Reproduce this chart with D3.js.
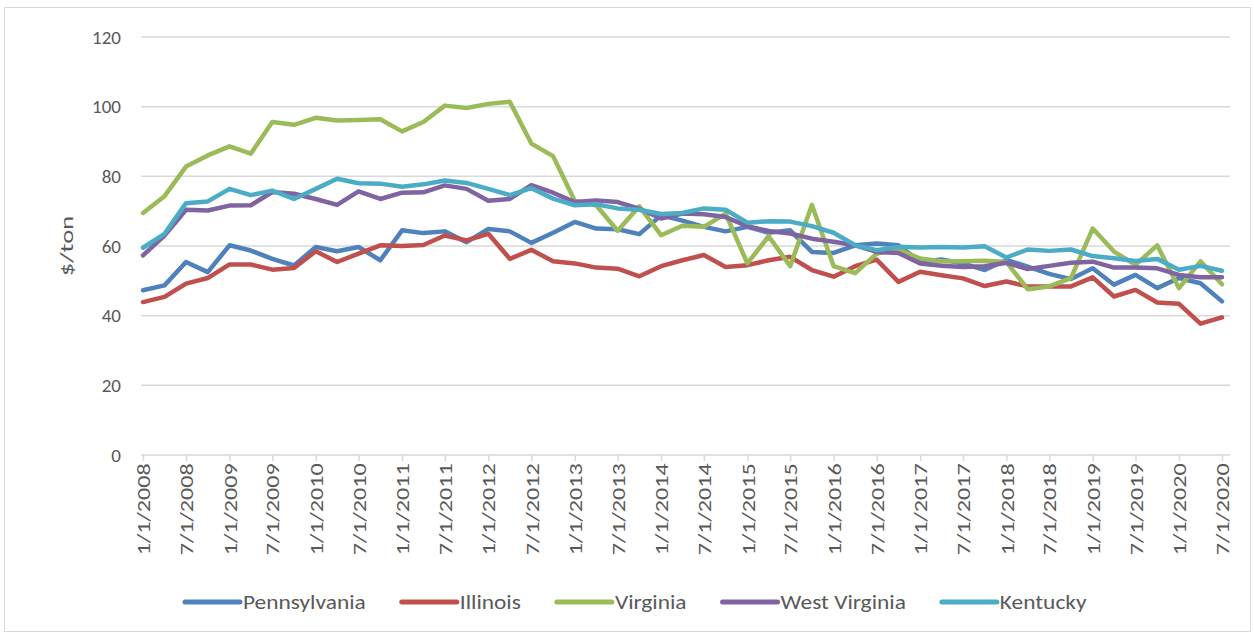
<!DOCTYPE html>
<html>
<head>
<meta charset="utf-8">
<script src="https://cdn.jsdelivr.net/npm/d3@7"></script>
<style>
  body { margin: 0; background: #fff; }
  text { font-family: Calibri, Carlito, Lato, sans-serif; fill: #595959; }
</style>
</head>
<body>
<svg id="chart"></svg>
<script>
const width = 1254;
const height = 636;

// quarterly dates, 1/1/2008 .. 7/1/2020
const dates = d3.timeMonth.range(new Date(2008, 0, 1), new Date(2020, 7, 1), 3);

const states = ["Pennsylvania", "Illinois", "Virginia", "West Virginia", "Kentucky"];
const colors = ["#4F81BD", "#C0504D", "#9BBB59", "#8064A2", "#4BACC6"];

const pennsylvania = [47.3, 48.7, 55.4, 52.5, 60.2, 58.7, 56.3, 54.4, 59.7, 58.5,
  59.7, 55.9, 64.5, 63.7, 64.2, 61.1, 64.9, 64.2, 60.9, 63.8,
  66.9, 65.0, 64.8, 63.4, 68.8, 67.3, 65.5, 64.2, 65.5, 63.8,
  64.5, 58.3, 58.0, 60.2, 60.7, 60.2, 55.5, 56.1, 55.0, 53.1,
  56.0, 54.1, 52.0, 50.5, 53.6, 48.9, 51.7, 47.9, 50.8, 49.3, 44.1];

const illinois = [43.9, 45.4, 49.2, 50.8, 54.7, 54.7, 53.2, 53.7, 58.5, 55.4,
  57.8, 60.2, 60.0, 60.3, 63.0, 61.6, 63.5, 56.3, 58.9, 55.6,
  55.0, 53.8, 53.5, 51.3, 54.2, 55.9, 57.4, 54.0, 54.5, 55.9,
  56.9, 53.1, 51.2, 54.2, 56.1, 49.7, 52.6, 51.6, 50.7, 48.5,
  49.8, 48.4, 48.4, 48.4, 51.0, 45.5, 47.4, 43.8, 43.4, 37.7, 39.5];

const virginia = [69.5, 74.3, 82.8, 86.0, 88.6, 86.5, 95.6, 94.8, 96.8, 96.0,
  96.2, 96.4, 92.9, 95.6, 100.3, 99.6, 100.8, 101.4, 89.4, 85.8,
  72.9, 71.7, 64.4, 71.4, 63.1, 65.8, 65.5, 69.3, 55.0, 62.8,
  54.2, 71.8, 54.2, 52.2, 57.8, 59.0, 56.4, 55.6, 55.6, 55.8,
  55.4, 47.6, 48.4, 50.8, 65.0, 58.4, 54.6, 60.2, 47.9, 55.6, 49.0];

const westVirginia = [57.3, 63.0, 70.4, 70.2, 71.6, 71.7, 75.5, 75.0, 73.5, 71.8,
  75.7, 73.5, 75.3, 75.4, 77.4, 76.4, 73.0, 73.5, 77.5, 75.3,
  72.6, 73.1, 72.6, 70.7, 67.9, 69.3, 69.1, 68.3, 65.7, 64.3,
  63.6, 62.1, 61.2, 60.2, 58.3, 58.0, 55.0, 54.3, 54.0, 54.2,
  55.2, 53.4, 54.3, 55.2, 55.5, 53.8, 53.8, 53.6, 51.7, 51.0, 51.0];

const kentucky = [59.5, 63.5, 72.3, 72.8, 76.4, 74.6, 75.9, 73.5, 76.4, 79.3,
  78.0, 77.9, 77.0, 77.7, 78.8, 78.1, 76.4, 74.6, 76.6, 73.6,
  71.7, 72.0, 70.8, 70.4, 69.2, 69.5, 70.8, 70.4, 66.7, 67.1,
  67.0, 65.7, 63.8, 60.2, 58.8, 59.8, 59.6, 59.7, 59.6, 59.9,
  56.7, 59.0, 58.6, 59.0, 57.1, 56.5, 55.7, 56.3, 53.2, 54.3, 52.9];

const yTicks = [0, 20, 40, 60, 80, 100, 120];

const series = [pennsylvania, illinois, virginia, westVirginia, kentucky];

const svg = d3.select("#chart")
    .attr("width", width)
    .attr("height", height);

// chart frame
svg.append("rect")
    .attr("x", 4.5).attr("y", 7.5)
    .attr("width", width - 8).attr("height", height - 12)
    .attr("fill", "none")
    .attr("stroke", "#d9d9d9");

const x = d3.scaleTime()
    .domain([dates[0], dates[dates.length - 1]])
    .range([143, 1222]);

const y = d3.scaleLinear()
    .domain([0, 120])
    .range([455, 37]);

// gridlines
svg.append("g")
    .selectAll("line")
    .data(yTicks.slice(1))
    .enter().append("line")
    .attr("x1", 141).attr("x2", 1230)
    .attr("y1", d => y(d)).attr("y2", d => y(d))
    .attr("stroke", "#d9d9d9")
    .attr("stroke-width", 1.5);

// y axis labels
svg.append("g")
    .selectAll("text")
    .data(yTicks)
    .enter().append("text")
    .attr("x", 121)
    .attr("y", d => y(d))
    .attr("dy", "0.35em")
    .attr("text-anchor", "end")
    .style("font-size", "19px")
    .text(d => d);

svg.append("text")
    .attr("transform", "translate(66," + y(60) + ") rotate(-90) scale(1.4,1)")
    .attr("text-anchor", "middle")
    .attr("dy", "0.35em")
    .style("font-size", "19px")
    .text("$/ton");

// x axis
const xAxis = d3.axisBottom(x)
    .tickValues(d3.timeMonth.range(dates[0], new Date(2020, 7, 1), 6))
    .tickFormat(d3.timeFormat("%-m/%-d/%Y"))
    .tickSize(6);

const gx = svg.append("g")
    .attr("transform", "translate(0," + y(0) + ")")
    .call(xAxis);

gx.select(".domain").remove();
gx.append("line")
    .attr("x1", 141).attr("x2", 1230)
    .attr("stroke", "#d9d9d9")
    .attr("stroke-width", 1.5);
gx.selectAll(".tick line")
    .attr("stroke", "#d9d9d9")
    .attr("stroke-width", 1.5);
gx.selectAll(".tick text")
    .attr("transform", "rotate(-90) scale(1.27,1)")
    .attr("x", -6.5)
    .attr("y", 0)
    .attr("dy", "0.35em")
    .attr("text-anchor", "end")
    .style("font-size", "19px")
    .style("font-family", "Calibri, Carlito, Lato, sans-serif")
    .attr("fill", "#595959");

// lines
const line = d3.line()
    .x((d, i) => x(dates[i]))
    .y(d => y(d));

svg.append("g")
    .selectAll("path")
    .data(series)
    .enter().append("path")
    .attr("d", line)
    .attr("fill", "none")
    .attr("stroke", (d, i) => colors[i])
    .attr("stroke-width", 4.5)
    .attr("stroke-linejoin", "round")
    .attr("stroke-linecap", "round");

// legend, entries packed left to right
const textScale = 1.17;
const legend = svg.append("g")
    .selectAll("g")
    .data(states)
    .enter().append("g");

legend.append("line")
    .attr("x1", 0).attr("x2", 55)
    .attr("stroke", (d, i) => colors[i])
    .attr("stroke-width", 5)
    .attr("stroke-linecap", "round");

legend.append("text")
    .attr("transform", "translate(58,0) scale(" + textScale + ",1)")
    .attr("dy", "0.35em")
    .style("font-size", "20px")
    .text(d => d);

let lx = 185;
legend.each(function() {
    const g = d3.select(this);
    g.attr("transform", "translate(" + lx + ",602)");
    lx += 58 + g.select("text").node().getComputedTextLength() * textScale + 36;
});
</script>
</body>
</html>
